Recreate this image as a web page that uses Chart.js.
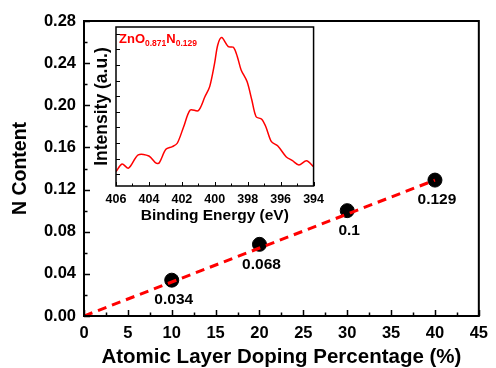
<!DOCTYPE html>
<html>
<head>
<meta charset="utf-8">
<script src="https://cdn.jsdelivr.net/npm/chart.js@4.4.0/dist/chart.umd.min.js"></script>
<style>
  body { margin: 0; background: #fff; }
  #wrap { position: relative; width: 496px; height: 368px; }
  #main-chart { position: absolute; left: 0; top: 0; }
  #inset-chart { position: absolute; left: 80px; top: 20px; }
</style>
</head>
<body>
<div id="wrap">
  <canvas id="main-chart" width="496" height="368"></canvas>
  <canvas id="inset-chart" width="250" height="210"></canvas>
</div>
<script>
// main plot: N content vs doping percentage
const doping = [10, 20, 30, 40];
const nContent = [0.034, 0.068, 0.1, 0.129];
const nLabels = ['0.034', '0.068', '0.1', '0.129'];

// dashed linear fit (through origin)
const fitX = [0, 40];
const fitY = [0, 0.129];

const xTicks = [0, 5, 10, 15, 20, 25, 30, 35, 40, 45];
const yTicks = [0, 0.04, 0.08, 0.12, 0.16, 0.2, 0.24, 0.28];

// inset: N 1s XPS spectrum of ZnO0.871N0.129
const energy = [406.0, 405.63, 405.24, 404.65, 404.0, 403.56, 403.37, 402.97, 402.58, 402.28,
  401.89, 401.49, 401.0, 400.6, 400.31, 400.01, 399.82, 399.58, 399.18, 398.87,
  398.63, 398.4, 398.04, 397.75, 397.49, 397.15, 396.9, 396.56, 396.17, 395.67,
  395.28, 394.89, 394.43, 394.0];
const intensity = [3170, 3660, 3390, 4240, 4170, 3710, 3740, 4600, 4770, 4990,
  6050, 7120, 7080, 7970, 8620, 10120, 11290, 11760, 11180, 11140,
  10540, 9690, 8940, 7760, 6690, 6530, 6050, 5090, 4810, 4130,
  3870, 3600, 3870, 3490];
const energyTicks = [406, 404, 402, 400, 398, 396, 394];

const FONT = "'Liberation Sans', Arial, sans-serif";
Chart.defaults.font.family = FONT;
Chart.defaults.color = '#000';

// ticks pointing inward + box frame around plot area
const innerTicks = {
  id: 'innerTicks',
  afterDatasetsDraw(chart, args, opts) {
    const ctx = chart.ctx;
    const a = chart.chartArea;
    const xs = chart.scales.x, ys = chart.scales.y;
    ctx.save();
    ctx.strokeStyle = '#000';
    ctx.lineWidth = opts.tickWidth;
    ctx.beginPath();
    // bottom axis
    let start = Math.ceil(Math.min(xs.min, xs.max) / opts.xMinor - 1e-6);
    let end = Math.floor(Math.max(xs.min, xs.max) / opts.xMinor + 1e-6);
    for (let i = start; i <= end; i++) {
      const v = i * opts.xMinor;
      const r = v / opts.xMajor;
      const len = Math.abs(r - Math.round(r)) < 1e-6 ? opts.major : opts.minor;
      const px = Math.round(xs.getPixelForValue(v)) + 0.5;
      ctx.moveTo(px, a.bottom);
      ctx.lineTo(px, a.bottom - len);
    }
    // left axis
    start = Math.ceil(ys.min / opts.yMinor - 1e-6);
    end = Math.floor(ys.max / opts.yMinor + 1e-6);
    for (let i = start; i <= end; i++) {
      const v = i * opts.yMinor;
      const r = v / opts.yMajor;
      const len = Math.abs(r - Math.round(r)) < 1e-6 ? opts.major : opts.minor;
      const py = Math.round(ys.getPixelForValue(v)) + 0.5;
      ctx.moveTo(a.left, py);
      ctx.lineTo(a.left + len, py);
    }
    ctx.stroke();
    ctx.lineWidth = opts.frameWidth;
    ctx.strokeRect(a.left, a.top, a.width, a.height);
    ctx.restore();
  }
};

// value labels under the data points
const pointLabels = {
  id: 'pointLabels',
  afterDatasetsDraw(chart) {
    const meta = chart.getDatasetMeta(1);
    const ctx = chart.ctx;
    ctx.save();
    ctx.font = 'bold 15.5px ' + FONT;
    ctx.fillStyle = '#000';
    ctx.textAlign = 'center';
    ctx.textBaseline = 'middle';
    meta.data.forEach((pt, i) => {
      ctx.fillText(nLabels[i], pt.x + 2, pt.y + 20);
    });
    ctx.restore();
  }
};

// sample name in the inset
const insetLabel = {
  id: 'insetLabel',
  afterDraw(chart) {
    const ctx = chart.ctx;
    const a = chart.chartArea;
    ctx.save();
    ctx.fillStyle = '#ff0000';
    ctx.textBaseline = 'alphabetic';
    let x = a.left + 3;
    const y = a.top + 16;
    const parts = [['ZnO', 13, 0], ['0.871', 8.5, 3], ['N', 13, 0], ['0.129', 8.5, 3]];
    parts.forEach(p => {
      ctx.font = 'bold ' + p[1] + 'px ' + FONT;
      ctx.fillText(p[0], x, y + p[2]);
      x += ctx.measureText(p[0]).width;
    });
    ctx.restore();
  }
};

new Chart(document.getElementById('main-chart'), {
  type: 'scatter',
  data: {
    datasets: [{
      type: 'line',
      data: fitX.map((x, i) => ({ x: x, y: fitY[i] })),
      borderColor: '#ff0000',
      borderWidth: 3,
      borderDash: [9, 6],
      pointRadius: 0,
      fill: false
    }, {
      data: doping.map((x, i) => ({ x: x, y: nContent[i] })),
      backgroundColor: '#000',
      borderColor: '#000',
      pointRadius: 7
    }]
  },
  options: {
    responsive: false,
    devicePixelRatio: 1,
    animation: false,
    layout: { padding: { left: 0, top: 21, right: 11, bottom: 0 } },
    scales: {
      x: {
        type: 'linear',
        min: 0,
        max: 45,
        afterBuildTicks: s => { s.ticks = xTicks.map(v => ({ value: v })); },
        afterFit: s => { s.height = 52; },
        grid: { display: false, drawTicks: false },
        border: { display: false },
        ticks: { padding: 8, font: { size: 16.5, weight: 'bold' }, maxRotation: 0 },
        title: {
          display: true,
          text: 'Atomic Layer Doping Percentage (%)',
          font: { size: 20.5, weight: 'bold', lineHeight: 1 },
          padding: { top: 0, bottom: 0 }
        }
      },
      y: {
        type: 'linear',
        min: 0,
        max: 0.28,
        afterBuildTicks: s => { s.ticks = yTicks.map(v => ({ value: v })); },
        afterFit: s => { s.width = 84; },
        grid: { display: false, drawTicks: false },
        border: { display: false },
        ticks: {
          padding: 8,
          font: { size: 16.5, weight: 'bold' },
          callback: v => v.toFixed(2)
        },
        title: {
          display: true,
          text: 'N Content',
          font: { size: 19.5, weight: 'bold' },
          padding: { top: 9, bottom: 0 }
        }
      }
    },
    plugins: {
      legend: { display: false },
      tooltip: { enabled: false },
      innerTicks: { xMinor: 2.5, xMajor: 5, yMinor: 0.02, yMajor: 0.04, major: 6, minor: 3.5, tickWidth: 1.5, frameWidth: 2 }
    }
  },
  plugins: [innerTicks, pointLabels]
});

new Chart(document.getElementById('inset-chart'), {
  type: 'line',
  data: {
    datasets: [{
      data: energy.map((e, i) => ({ x: e, y: intensity[i] })),
      borderColor: '#ff0000',
      borderWidth: 1.5,
      pointRadius: 0,
      tension: 0.3,
      fill: false
    }]
  },
  options: {
    responsive: false,
    devicePixelRatio: 1,
    animation: false,
    layout: { padding: { left: 0, top: 7, right: 11, bottom: 0 } },
    scales: {
      x: {
        type: 'linear',
        reverse: true,
        min: 394,
        max: 406,
        afterBuildTicks: s => { s.ticks = energyTicks.map(v => ({ value: v })); },
        afterFit: s => { s.height = 44; },
        grid: { display: false, drawTicks: false },
        border: { display: false },
        ticks: { padding: 6, font: { size: 12.5, weight: 'bold' }, maxRotation: 0 },
        title: {
          display: true,
          text: 'Binding Energy (eV)',
          font: { size: 15.5, weight: 'bold', lineHeight: 1.2 },
          padding: { top: 0, bottom: 5 }
        }
      },
      y: {
        type: 'linear',
        min: 2250,
        max: 12440,
        afterFit: s => { s.width = 36; },
        grid: { display: false, drawTicks: false },
        border: { display: false },
        ticks: { display: false },
        title: {
          display: true,
          text: 'Intensity (a.u.)',
          font: { size: 17.5, weight: 'bold' },
          padding: { top: 12, bottom: 0 }
        }
      }
    },
    plugins: {
      legend: { display: false },
      tooltip: { enabled: false },
      innerTicks: { xMinor: 1, xMajor: 2, yMinor: 1000, yMajor: 1000, major: 4, minor: 2.5, tickWidth: 1, frameWidth: 1.5 }
    }
  },
  plugins: [innerTicks, insetLabel]
});
</script>
</body>
</html>
